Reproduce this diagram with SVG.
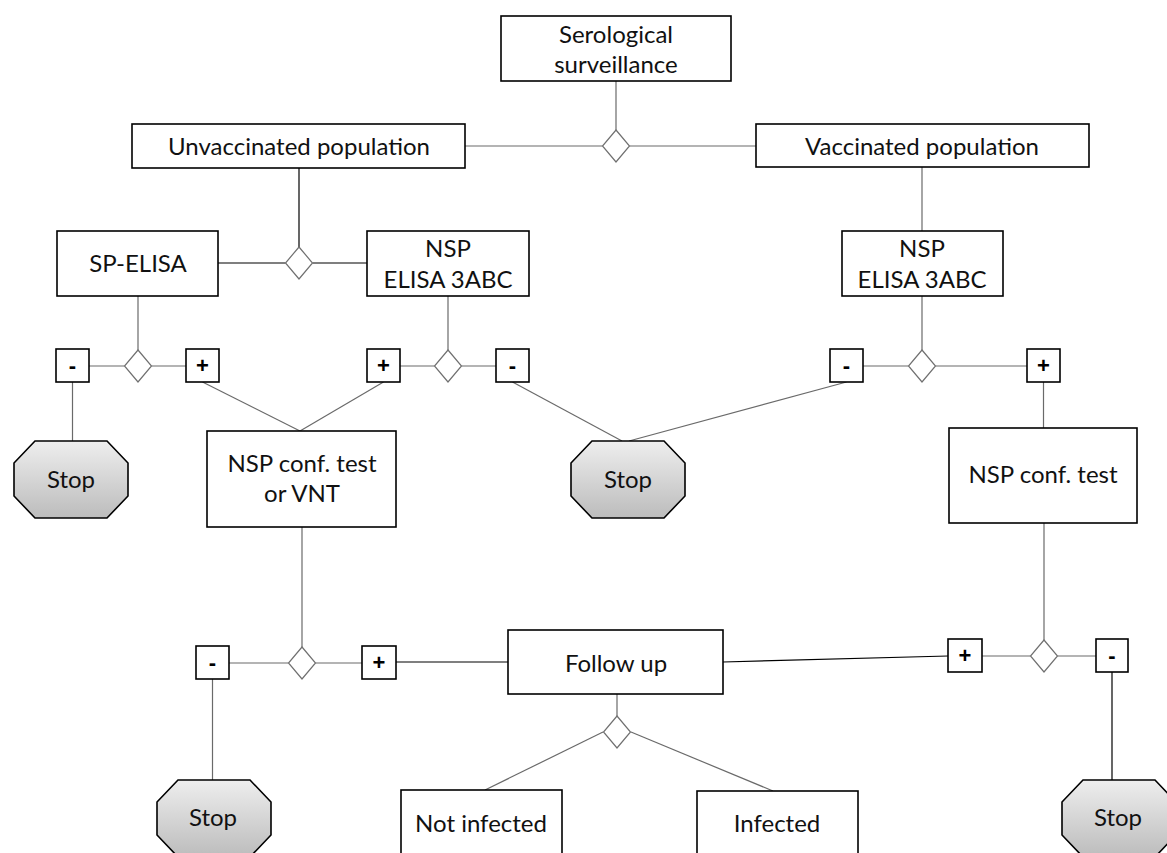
<svg xmlns="http://www.w3.org/2000/svg" width="1167" height="853" viewBox="0 0 1167 853">
<defs>
<linearGradient id="stopg" x1="0" y1="0" x2="0" y2="1">
<stop offset="0" stop-color="#eeeeee"/>
<stop offset="1" stop-color="#bcbcbc"/>
</linearGradient>
<polygon id="oct" points="21,0 93,0 114,22 114,55 93,77 21,77 0,55 0,22"/>
<polygon id="dia" points="0,-16 13.5,0 0,16 -13.5,0"/>
</defs>
<style>
.box{fill:#fff;stroke:#000;stroke-width:1.6}
.sign{fill:#fff;stroke:#000;stroke-width:1.6}
.stop{fill:url(#stopg);stroke:#000;stroke-width:1.6}
.dia{fill:#fff;stroke:#707070;stroke-width:1.2}
.t{font-family:Lato,"Open Sans",sans-serif;font-size:24px;fill:#111;text-anchor:middle}
.s{font-family:"Liberation Sans",Arial,sans-serif;font-size:22px;font-weight:bold;fill:#000;text-anchor:middle}
.c{stroke:#6a6a6a;stroke-width:1.2;fill:none}
.k{stroke:#000;stroke-width:1.2;fill:none}
</style>
<rect width="1167" height="853" fill="#fff"/>
<g id="connectors">
<line class="c" x1="616" y1="81" x2="616" y2="130"/>
<line class="c" x1="465" y1="146" x2="602.5" y2="146"/>
<line class="c" x1="629.5" y1="146" x2="756" y2="146"/>
<line class="k" x1="299" y1="168" x2="299" y2="247"/>
<line class="k" x1="218" y1="263" x2="285.5" y2="263"/>
<line class="k" x1="312.5" y1="263" x2="367" y2="263"/>
<line class="c" x1="922" y1="167" x2="922" y2="231"/>
<line class="c" x1="138" y1="296" x2="138" y2="350"/>
<line class="c" x1="89" y1="366" x2="124.5" y2="366"/>
<line class="c" x1="151.5" y1="366" x2="186" y2="366"/>
<line class="c" x1="72.5" y1="382" x2="72.5" y2="441"/>
<line class="c" x1="202.5" y1="382" x2="300" y2="431"/>
<line class="c" x1="448" y1="296" x2="448" y2="350"/>
<line class="c" x1="400" y1="366" x2="434.5" y2="366"/>
<line class="c" x1="461.5" y1="366" x2="496" y2="366"/>
<line class="c" x1="383.5" y1="382" x2="300" y2="431"/>
<line class="c" x1="512.5" y1="382" x2="622" y2="441"/>
<line class="c" x1="922" y1="296" x2="922" y2="350"/>
<line class="c" x1="863" y1="366" x2="908.5" y2="366"/>
<line class="c" x1="935.5" y1="366" x2="1027" y2="366"/>
<line class="c" x1="846.5" y1="382" x2="629" y2="441"/>
<line class="c" x1="1043.5" y1="382" x2="1043.5" y2="428"/>
<line class="c" x1="1044" y1="523" x2="1044" y2="640"/>
<line class="c" x1="982" y1="656" x2="1030.5" y2="656"/>
<line class="c" x1="1057.5" y1="656" x2="1096" y2="656"/>
<line class="k" x1="1112" y1="672" x2="1112" y2="780"/>
<line class="k" x1="723" y1="662" x2="948" y2="656"/>
<line class="c" x1="302" y1="527" x2="302" y2="647"/>
<line class="c" x1="229" y1="663" x2="288.5" y2="663"/>
<line class="c" x1="315.5" y1="663" x2="362" y2="663"/>
<line class="c" x1="212.5" y1="679" x2="212.5" y2="780"/>
<line class="k" x1="396" y1="662" x2="508" y2="662"/>
<line class="c" x1="617" y1="694" x2="617" y2="717"/>
<line class="c" x1="603" y1="732" x2="485" y2="790"/>
<line class="c" x1="631" y1="732" x2="773" y2="791"/>
</g>
<g id="serological"><rect class="box" x="501" y="16" width="230" height="65"/><text class="t" x="616" y="43">Serological</text><text class="t" x="616" y="73">surveillance</text></g>
<g id="d1"><use href="#dia" class="dia" x="616" y="146"/></g>
<g id="unvaccinated"><rect class="box" x="132" y="124" width="333" height="44"/><text class="t" x="299" y="155">Unvaccinated population</text></g>
<g id="vaccinated"><rect class="box" x="756" y="124" width="333" height="43"/><text class="t" x="922" y="155">Vaccinated population</text></g>
<g id="d2"><use href="#dia" class="dia" x="299" y="263"/></g>
<g id="sp-elisa"><rect class="box" x="57" y="231" width="161" height="65"/><text class="t" x="138" y="272">SP-ELISA</text></g>
<g id="nsp-left"><rect class="box" x="367" y="231" width="162" height="65"/><text class="t" x="448" y="257">NSP</text><text class="t" x="448" y="288">ELISA 3ABC</text></g>
<g id="nsp-right"><rect class="box" x="842" y="231" width="161" height="65"/><text class="t" x="922" y="257">NSP</text><text class="t" x="922" y="288">ELISA 3ABC</text></g>
<g id="d3"><use href="#dia" class="dia" x="138" y="366"/></g>
<g id="neg1"><rect class="sign" x="56" y="349" width="33" height="33"/><text class="s" x="72.5" y="373">-</text></g>
<g id="pos1"><rect class="sign" x="186" y="349" width="33" height="33"/><text class="s" x="202.5" y="373">+</text></g>
<g id="d4"><use href="#dia" class="dia" x="448" y="366"/></g>
<g id="pos2"><rect class="sign" x="367" y="349" width="33" height="33"/><text class="s" x="383.5" y="373">+</text></g>
<g id="neg2"><rect class="sign" x="496" y="349" width="33" height="33"/><text class="s" x="512.5" y="373">-</text></g>
<g id="d5"><use href="#dia" class="dia" x="922" y="366"/></g>
<g id="neg3"><rect class="sign" x="830" y="349" width="33" height="33"/><text class="s" x="846.5" y="373">-</text></g>
<g id="pos3"><rect class="sign" x="1027" y="349" width="33" height="33"/><text class="s" x="1043.5" y="373">+</text></g>
<g id="stop1"><use href="#oct" class="stop" x="14" y="441"/><text class="t" x="71" y="488">Stop</text></g>
<g id="stop2"><use href="#oct" class="stop" x="571" y="441"/><text class="t" x="628" y="488">Stop</text></g>
<g id="nsp-conf-vnt"><rect class="box" x="207" y="431" width="189" height="96"/><text class="t" x="302" y="472">NSP conf. test</text><text class="t" x="302" y="502">or VNT</text></g>
<g id="nsp-conf"><rect class="box" x="949" y="428" width="188" height="95"/><text class="t" x="1043" y="483">NSP conf. test</text></g>
<g id="d7"><use href="#dia" class="dia" x="302" y="663"/></g>
<g id="neg4"><rect class="sign" x="196" y="646" width="33" height="33"/><text class="s" x="212.5" y="670">-</text></g>
<g id="pos4"><rect class="sign" x="362" y="646" width="34" height="33"/><text class="s" x="379" y="670">+</text></g>
<g id="d6"><use href="#dia" class="dia" x="1044" y="656"/></g>
<g id="pos5"><rect class="sign" x="948" y="639" width="34" height="33"/><text class="s" x="965" y="663">+</text></g>
<g id="neg5"><rect class="sign" x="1096" y="639" width="32" height="33"/><text class="s" x="1112" y="663">-</text></g>
<g id="follow-up"><rect class="box" x="508" y="630" width="215" height="64"/><text class="t" x="616" y="672">Follow up</text></g>
<g id="d8"><use href="#dia" class="dia" x="617" y="732"/></g>
<g id="stop3"><use href="#oct" class="stop" x="157" y="780"/><text class="t" x="213" y="826">Stop</text></g>
<g id="stop4"><use href="#oct" class="stop" x="1062" y="780"/><text class="t" x="1118" y="826">Stop</text></g>
<g id="not-infected"><rect class="box" x="401" y="790" width="161" height="80"/><text class="t" x="481" y="832">Not infected</text></g>
<g id="infected"><rect class="box" x="697" y="791" width="161" height="80"/><text class="t" x="777" y="832">Infected</text></g>
</svg>
